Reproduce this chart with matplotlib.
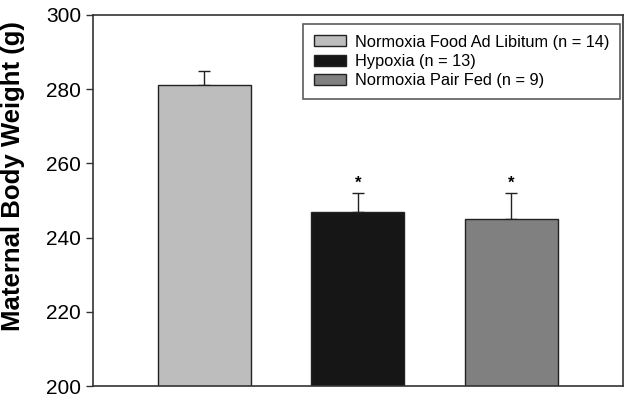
import matplotlib
matplotlib.use("Agg")
import matplotlib.pyplot as plt
import numpy as np

plt.rcParams['font.family'] = ['Liberation Sans', 'DejaVu Sans']

groups = ["Normoxia Food Ad Libitum (n = 14)", "Hypoxia (n = 13)", "Normoxia Pair Fed (n = 9)"]
weights = [281, 247, 245]
sem = [4, 5, 7]
significant = [False, True, True]
colors = ["#bdbdbd", "#161616", "#808080"]

fig = plt.figure(figsize=(6.33, 4.0), dpi=100)
ax = fig.add_axes([0.147, 0.035, 0.837, 0.9275])

x = np.arange(len(weights))
bars = ax.bar(x, weights, width=0.606, color=colors, edgecolor="#222222",
              linewidth=1.0, label=groups, zorder=2)
ax.errorbar(x, weights, yerr=[np.zeros(len(sem)), sem], fmt="none",
            ecolor="#222222", elinewidth=1.0, capsize=4.5, capthick=1.0, zorder=1)

for xi, w, s, sig in zip(x, weights, sem, significant):
    if sig:
        ax.annotate("*", (xi, w + s), xytext=(0, 2), textcoords="offset points",
                    ha="center", va="bottom", fontsize=12, fontweight="bold")

ax.set_ylim(200, 300)
ax.set_xlim(-0.726, 2.726)
ax.set_yticks(np.arange(200, 301, 20))
ax.set_xticks([])
ax.tick_params(axis="y", labelsize=15, length=5, width=1, direction="out", color="#333333")
ax.set_ylabel("Maternal Body Weight (g)", fontsize=18.5, fontweight="bold")
ax.yaxis.set_label_coords(-0.128, 0.566)
for sp in ax.spines.values():
    sp.set_color("#333333")
    sp.set_linewidth(1.2)

leg = ax.legend(handles=bars, labels=groups, loc="upper right", fontsize=11.8,
                frameon=True, fancybox=False, edgecolor="#333333",
                handlelength=2.0, handleheight=0.65, borderpad=0.65,
                labelspacing=0.27, handletextpad=0.5, borderaxespad=0,
                bbox_to_anchor=(0.994, 0.976))
leg.get_frame().set_linewidth(1.2)

fig.savefig("out.png", dpi=100)
